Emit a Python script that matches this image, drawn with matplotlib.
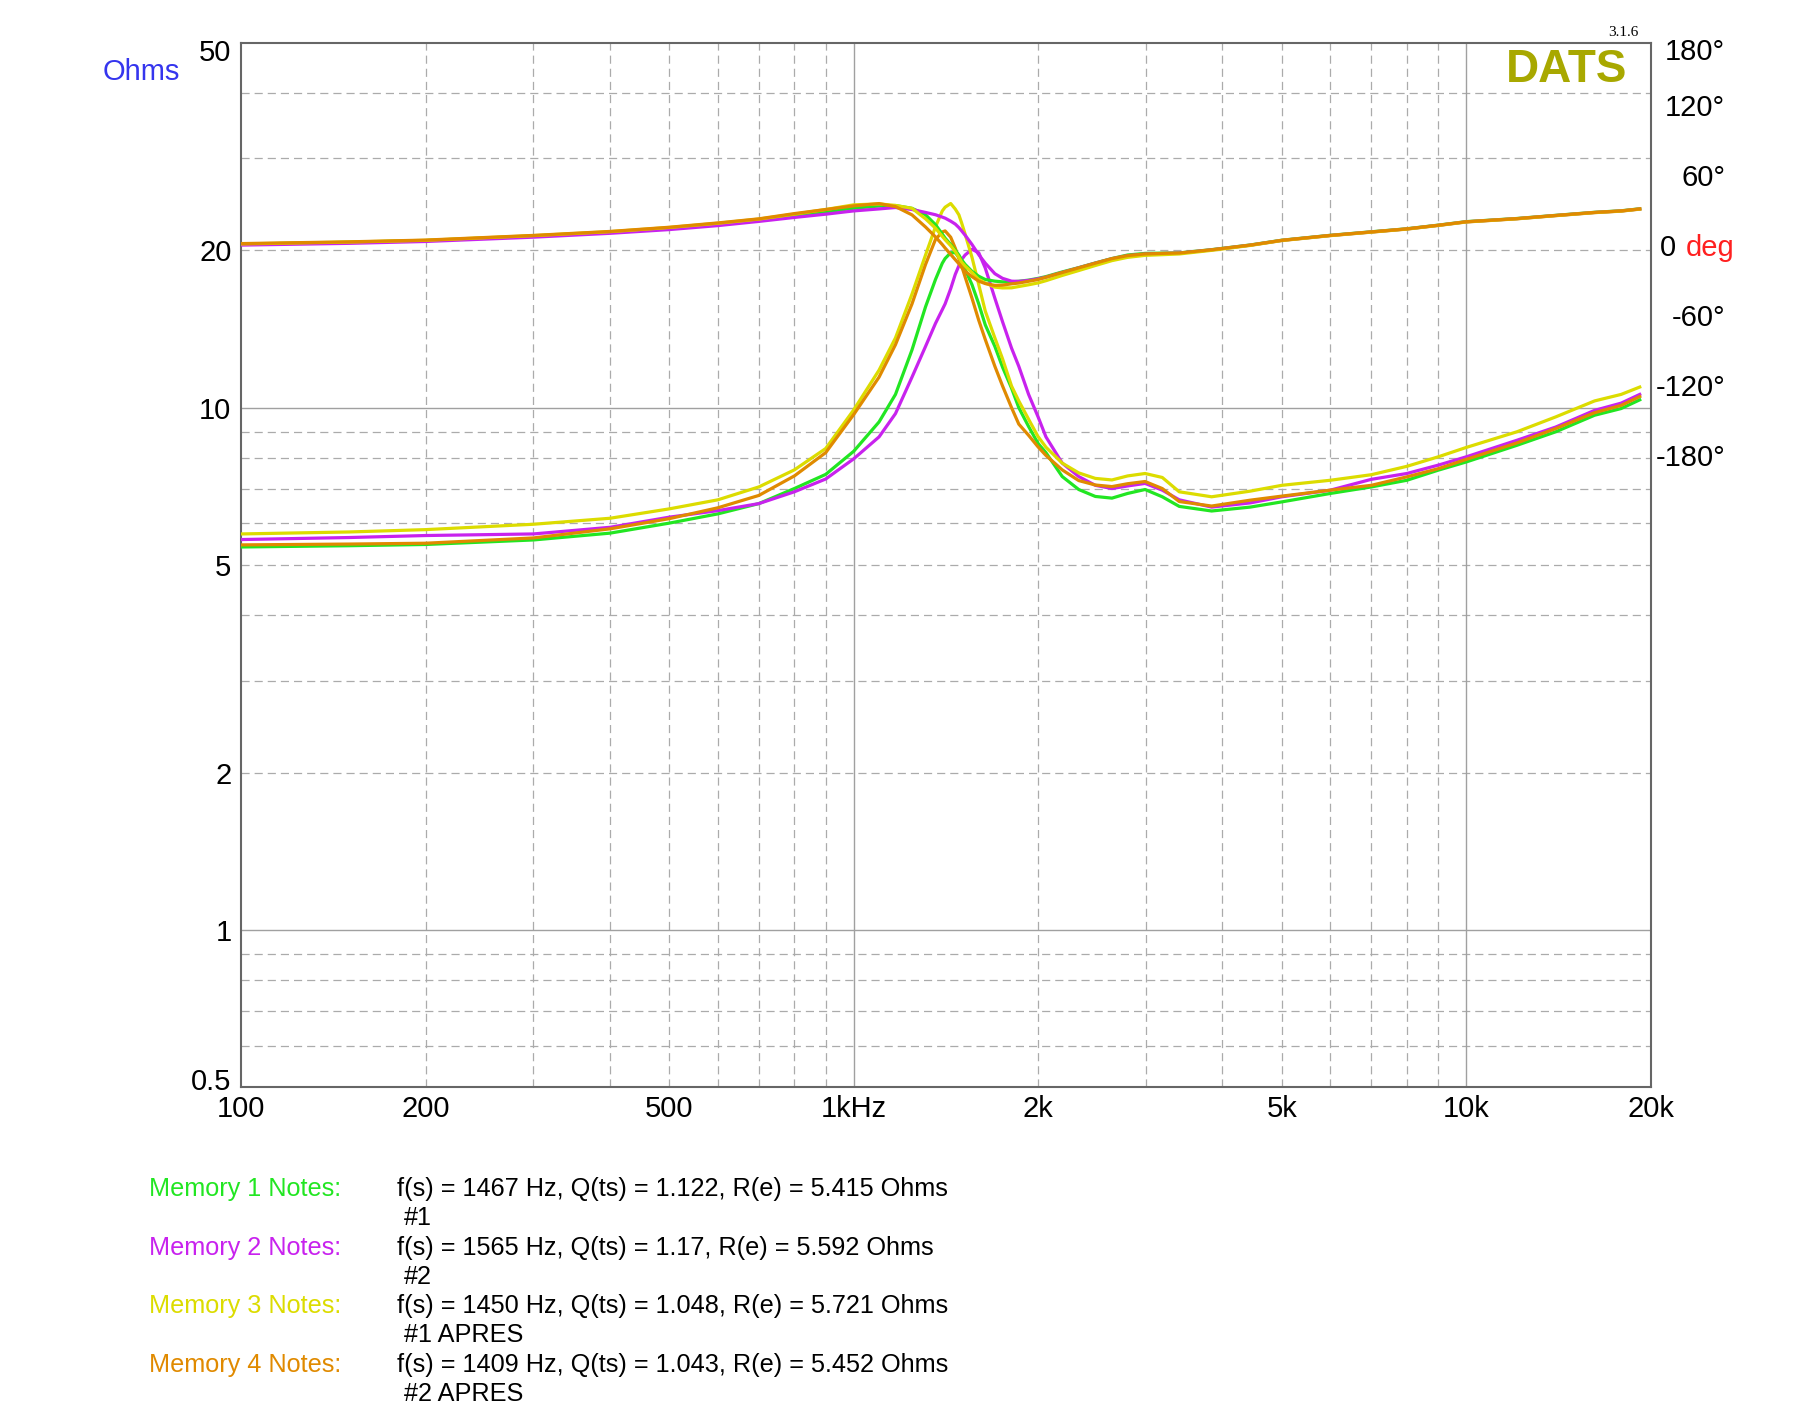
import matplotlib
matplotlib.use("Agg")
import matplotlib.pyplot as plt
from matplotlib.ticker import FixedLocator, NullLocator, FixedFormatter

plt.rcParams['font.family'] = ['Liberation Sans', 'DejaVu Sans']

# frequency points (Hz)
freq = [100, 150, 200, 300, 400, 500, 600, 700, 800, 900,
        1000, 1100, 1170, 1245, 1310, 1360, 1395, 1410, 1440, 1465,
        1485, 1500, 1520, 1560, 1600, 1640, 1700, 1750, 1810, 1860,
        1930, 2000, 2060, 2190, 2330, 2480, 2640, 2800, 2990, 3190,
        3400, 3840, 4440, 5000, 6000, 7000, 8000, 9000, 10000, 12100,
        14000, 16200, 17900, 19200]

# impedance magnitude (Ohms)
z_mem1 = [5.41, 5.44, 5.47, 5.58, 5.75, 6.01, 6.26, 6.55, 7.00, 7.45,
          8.25, 9.39, 10.6, 12.9, 15.6, 17.6, 18.9, 19.3, 19.8, 19.8,
          19.4, 19.0, 18.4, 17.2, 15.8, 14.4, 13.1, 11.95, 10.9, 10.0,
          9.2, 8.54, 8.2, 7.38, 6.97, 6.76, 6.71, 6.85, 6.97, 6.75,
          6.47, 6.34, 6.45, 6.60, 6.85, 7.05, 7.26, 7.59, 7.87, 8.47,
          8.99, 9.67, 9.96, 10.35]
z_mem2 = [5.59, 5.64, 5.69, 5.73, 5.90, 6.17, 6.35, 6.55, 6.90, 7.30,
          7.98, 8.79, 9.74, 11.44, 13.1, 14.5, 15.4, 15.8, 16.9, 18.0,
          18.7, 19.2, 19.6, 20.1, 19.8, 18.5, 16.2, 14.6, 13.0, 12.0,
          10.6, 9.6, 8.79, 7.83, 7.38, 7.10, 7.00, 7.08, 7.16, 6.95,
          6.66, 6.45, 6.57, 6.75, 6.95, 7.29, 7.48, 7.76, 8.05, 8.66,
          9.18, 9.88, 10.2, 10.6]
z_mem3 = [5.73, 5.78, 5.84, 5.98, 6.14, 6.40, 6.66, 7.05, 7.60, 8.35,
          9.90, 11.8, 13.6, 16.5, 19.6, 22.2, 23.8, 24.2, 24.6, 24.0,
          23.4, 22.6, 21.5, 19.4, 17.2, 15.3, 13.6, 12.4, 11.0, 10.3,
          9.5, 8.8, 8.4, 7.83, 7.50, 7.32, 7.27, 7.40, 7.48, 7.35,
          6.90, 6.75, 6.92, 7.10, 7.26, 7.44, 7.72, 8.05, 8.39, 8.99,
          9.60, 10.3, 10.6, 10.95]
z_mem4 = [5.46, 5.48, 5.50, 5.63, 5.86, 6.13, 6.43, 6.79, 7.40, 8.20,
          9.70, 11.44, 13.2, 15.8, 18.8, 21.0, 21.7, 21.8, 21.2, 20.2,
          19.3, 18.7, 17.8, 16.2, 14.7, 13.5, 12.0, 11.0, 10.0, 9.3,
          8.85, 8.41, 8.1, 7.6, 7.25, 7.11, 7.06, 7.15, 7.22, 7.00,
          6.61, 6.48, 6.65, 6.77, 6.95, 7.10, 7.37, 7.64, 7.96, 8.56,
          9.12, 9.78, 10.1, 10.5]

# impedance phase (degrees)
ph_mem1 = [3.3, 4.9, 6.4, 10.3, 13.6, 17.0, 20.6, 24.0, 27.8, 31.0,
           34.1, 36.0, 36.4, 34.0, 28.5, 20.0, 12.0, 8.5, 3.0, -2.0,
           -6.0, -10.0, -14.0, -20.0, -24.2, -27.0, -28.4, -29.0, -29.0, -28.5,
           -27.5, -26.0, -24.5, -20.5, -16.8, -12.8, -9.0, -6.0, -4.6, -4.4,
           -4.2, -1.4, 2.6, 6.7, 10.9, 13.9, 16.5, 19.6, 22.6, 25.3,
           28.0, 30.6, 31.9, 33.6]
ph_mem2 = [2.5, 4.0, 5.6, 9.3, 12.6, 15.8, 19.2, 22.8, 26.2, 29.0,
           31.8, 33.5, 34.7, 33.0, 30.5, 28.5, 26.5, 25.6, 23.0, 20.5,
           17.5, 14.8, 11.0, 3.0, -5.7, -13.0, -22.0, -26.0, -28.4, -28.6,
           -27.8, -26.4, -25.0, -21.0, -17.0, -13.0, -9.2, -6.6, -5.2, -4.7,
           -4.4, -1.6, 2.4, 6.5, 10.7, 13.7, 16.3, 19.4, 22.4, 25.1,
           27.8, 30.4, 31.7, 33.4]
ph_mem3 = [3.5, 5.1, 6.6, 10.6, 14.0, 17.6, 21.2, 24.8, 29.0, 33.0,
           37.0, 37.8, 36.5, 34.0, 25.0, 17.0, 10.0, 7.1, 2.0, -3.0,
           -8.0, -12.0, -15.5, -21.0, -27.0, -30.0, -33.5, -34.2, -34.1, -33.0,
           -31.5, -29.9, -28.0, -23.5, -19.3, -15.0, -10.8, -8.0, -6.3, -5.7,
           -5.1, -2.0, 2.2, 6.4, 10.6, 13.6, 16.2, 19.3, 22.3, 25.0,
           27.7, 30.3, 31.6, 33.3]
ph_mem4 = [3.8, 5.3, 6.8, 10.8, 14.2, 17.8, 21.5, 25.0, 29.5, 33.0,
           36.1, 38.1, 35.5, 28.4, 18.0, 9.5, 3.0, 0.0, -5.5, -10.0,
           -13.5, -16.5, -20.0, -24.5, -28.4, -30.5, -32.0, -31.8, -30.7, -30.0,
           -28.5, -27.0, -25.0, -21.0, -17.0, -13.0, -9.1, -6.5, -5.1, -4.6,
           -4.3, -1.5, 2.5, 6.6, 10.8, 13.8, 16.4, 19.5, 22.5, 25.2,
           27.9, 30.5, 31.8, 33.5]

colors = ["#22E622", "#C822EE", "#DCDC00", "#E08A00"]
z_series = [z_mem1, z_mem2, z_mem3, z_mem4]
ph_series = [ph_mem1, ph_mem2, ph_mem3, ph_mem4]

note_labels = ["Memory 1 Notes:", "Memory 2 Notes:", "Memory 3 Notes:", "Memory 4 Notes:"]
note_values = ["f(s) = 1467 Hz, Q(ts) = 1.122, R(e) = 5.415 Ohms",
               "f(s) = 1565 Hz, Q(ts) = 1.17, R(e) = 5.592 Ohms",
               "f(s) = 1450 Hz, Q(ts) = 1.048, R(e) = 5.721 Ohms",
               "f(s) = 1409 Hz, Q(ts) = 1.043, R(e) = 5.452 Ohms"]
note_names = ["#1", "#2", "#1 APRES", "#2 APRES"]

x_ticks = [100, 200, 500, 1000, 2000, 5000, 10000, 20000]
x_labels = ["100", "200", "500", "1kHz", "2k", "5k", "10k", "20k"]
y_ticks = [0.518, 1, 2, 5, 10, 20, 48.3]
y_labels = ["0.5", "1", "2", "5", "10", "20", "50"]
ph_ticks = [168, 120, 60, -60, -120, -180]
ph_labels = ["180°", "120°", "60°", "-60°", "-120°", "-180°"]

fig = plt.figure(figsize=(18, 14.21), dpi=100)
ax = fig.add_axes([0.134, 0.235, 0.783, 0.735])
ax.set_xscale("log")
ax.set_yscale("log")
ax.set_xlim(100, 20000)
ax.set_ylim(0.5, 50)

# grid
dash_x = [200, 300, 400, 500, 600, 700, 800, 900, 2000, 3000, 4000, 5000, 6000, 7000, 8000, 9000]
dash_y = [0.6, 0.7, 0.8, 0.9, 2, 3, 4, 5, 6, 7, 8, 9, 20, 30, 40]
for v in dash_x:
    ax.axvline(v, color="#ABABAB", lw=0.9, ls=(0, (6.5, 4)), zorder=0)
for v in dash_y:
    ax.axhline(v, color="#ABABAB", lw=0.9, ls=(0, (6.5, 4)), zorder=0)
for v in [1000, 10000]:
    ax.axvline(v, color="#A0A0A0", lw=1.0, zorder=0)
for v in [1, 10]:
    ax.axhline(v, color="#A0A0A0", lw=1.0, zorder=0)

for z, c in zip(z_series, colors):
    ax.plot(freq, z, color=c, lw=2.3, zorder=3)

# phase on the right-hand scale
ax2 = ax.twinx()
ax2.set_ylim(-719, 176)
for ph, c in zip(ph_series, colors):
    ax2.plot(freq, ph, color=c, lw=2.3, zorder=3)
ax2.set_yticks([])
for s in ax2.spines.values():
    s.set_visible(False)

ax.set_xlim(100, 20000)
ax.xaxis.set_major_locator(FixedLocator(x_ticks))
ax.xaxis.set_major_formatter(FixedFormatter(x_labels))
ax.xaxis.set_minor_locator(NullLocator())
ax.yaxis.set_major_locator(FixedLocator(y_ticks))
ax.yaxis.set_major_formatter(FixedFormatter(y_labels))
ax.yaxis.set_minor_locator(NullLocator())
ax.tick_params(axis="both", length=0, labelsize=21, colors="black")
ax.tick_params(axis="x", pad=6)
ax.tick_params(axis="y", pad=7)
for s in ax.spines.values():
    s.set_color("#666666")
    s.set_linewidth(1.5)

tr = ax2.get_yaxis_transform()
for v, lab in zip(ph_ticks, ph_labels):
    ax2.text(1.053, v, lab, transform=tr, ha="right", va="center", fontsize=21, clip_on=False)
ax2.text(1.018, 0, "0", transform=tr, ha="right", va="center", fontsize=21, clip_on=False)
ax2.text(1.025, 0, "deg", transform=tr, ha="left", va="center", fontsize=21, color="#FF2020", clip_on=False)

ax2.text(0.9837, 0.974, "DATS", transform=ax2.transAxes, ha="right", va="center",
         fontsize=33, fontweight="bold", color="#A8A800")
ax2.text(0.9915, 1.0096, "3.1.6", transform=ax2.transAxes, ha="right", va="center",
         fontsize=11, family="Liberation Serif")

fig.text(0.057, 0.949, "Ohms", color="#3535EE", fontsize=21, va="center")

# notes below the chart
row_y = [0.1633, 0.1218, 0.0808, 0.0394]
for lab, val, name, c, y in zip(note_labels, note_values, note_names, colors, row_y):
    fig.text(0.083, y, lab, color=c, fontsize=18.2, va="center")
    fig.text(0.2207, y, val, color="black", fontsize=18.2, va="center")
    fig.text(0.2245, y - 0.0204, name, color="black", fontsize=18.2, va="center")

plt.savefig("out.png", dpi=100)
